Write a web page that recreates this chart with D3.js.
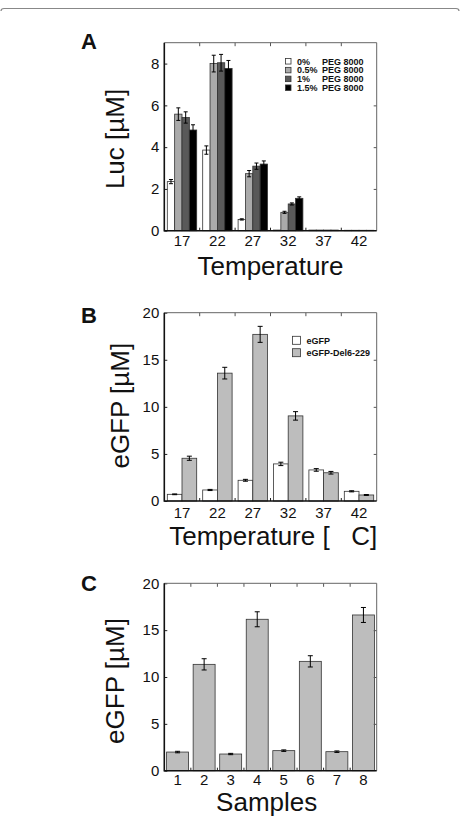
<!DOCTYPE html>
<html>
<head>
<meta charset="utf-8">
<script src="https://cdn.jsdelivr.net/npm/d3@7"></script>
<style>
  body { margin: 0; background: #fff; }
  text { font-family: "Liberation Sans", Arial, sans-serif; fill: #111; }
</style>
</head>
<body>
<div class="container"></div>
<script>
const w = 460;
const h = 816;

// panel A: luciferase vs temperature at 4 PEG levels
const tempLabels = ['17', '22', '27', '32', '37', '42'];
const pegLabels = ['0%', '0.5%', '1%', '1.5%'];
const lucPeg0 = [2.35, 3.86, 0.54, 0.03, 0.03, 0.02];
const lucPeg05 = [5.58, 8.0, 2.73, 0.88, 0.03, 0.02];
const lucPeg1 = [5.42, 8.04, 3.09, 1.28, 0.03, 0.02];
const lucPeg15 = [4.82, 7.77, 3.19, 1.55, 0.03, 0.02];
const lucErr0 = [0.1, 0.2, 0.03, 0, 0, 0];
const lucErr05 = [0.3, 0.4, 0.15, 0.05, 0, 0];
const lucErr1 = [0.27, 0.4, 0.15, 0.05, 0, 0];
const lucErr15 = [0.25, 0.38, 0.15, 0.07, 0, 0];
const lucTicks = [0, 2, 4, 6, 8];

// panel B: eGFP vs temperature
const gfpLabels = ['eGFP', 'eGFP-Del6-229'];
const gfpValues = [0.71, 1.17, 2.2, 3.94, 3.3, 1.03];
const gfpErr = [0.04, 0.06, 0.1, 0.18, 0.14, 0.06];
const delValues = [4.54, 13.58, 17.7, 9.04, 3.0, 0.64];
const delErr = [0.22, 0.62, 0.85, 0.45, 0.14, 0.05];
const gfpTicks = [0, 5, 10, 15, 20];

// panel C: eGFP per sample
const sampleLabels = ['1', '2', '3', '4', '5', '6', '7', '8'];
const sampleValues = [1.99, 11.35, 1.78, 16.16, 2.14, 11.67, 2.03, 16.62];
const sampleErr = [0.08, 0.6, 0.07, 0.8, 0.08, 0.6, 0.08, 0.8];

const svg = d3.select('.container').append('svg')
  .attr('width', w)
  .attr('height', h);

// page frame line at the top
svg.append('path')
  .attr('d', 'M1,11 Q1,8.5 4,8.5 L456,8.5 Q459,8.5 459,11')
  .attr('fill', 'none')
  .attr('stroke', '#888')
  .attr('stroke-width', 1.2);

const left = 164.3, right = 376.7;

function panel(o) {
  const g = svg.append('g');
  const x = d3.scaleBand().domain(o.cats).range([left, right]).padding(0);
  const y = d3.scaleLinear().domain([0, o.max]).range([o.bottom, o.top]);
  const x1 = d3.scaleBand()
    .domain(d3.range(o.series.length))
    .range([o.inset, x.bandwidth() - o.inset]);

  o.series.forEach((s, si) => {
    const bars = g.append('g');
    bars.selectAll('rect')
      .data(s.values)
      .enter()
      .append('rect')
        .attr('x', (d, i) => x(o.cats[i]) + x1(si))
        .attr('y', d => y(d))
        .attr('width', x1.bandwidth())
        .attr('height', d => y(0) - y(d))
        .style('fill', s.fill)
        .style('stroke', '#333')
        .style('stroke-width', 0.8);

    const err = bars.selectAll('.err')
      .data(s.values)
      .enter()
      .append('g')
        .classed('err', true)
        .attr('transform', (d, i) => `translate(${x(o.cats[i]) + x1(si) + x1.bandwidth() / 2},0)`)
        .style('display', (d, i) => s.errors[i] > 0 ? null : 'none');
    err.append('line')
      .attr('y1', (d, i) => y(d + s.errors[i]))
      .attr('y2', (d, i) => y(d - s.errors[i]))
      .attr('stroke', '#000').attr('stroke-width', 1);
    err.append('line')
      .attr('x1', -o.cap).attr('x2', o.cap)
      .attr('y1', (d, i) => y(d + s.errors[i]))
      .attr('y2', (d, i) => y(d + s.errors[i]))
      .attr('stroke', '#000').attr('stroke-width', 1);
    err.append('line')
      .attr('x1', -o.cap).attr('x2', o.cap)
      .attr('y1', (d, i) => y(d - s.errors[i]))
      .attr('y2', (d, i) => y(d - s.errors[i]))
      .attr('stroke', '#000').attr('stroke-width', 1);
  });

  // left axis, ticks pointing inward
  const yAxis = g.append('g')
    .attr('transform', `translate(${left},0)`)
    .call(d3.axisLeft(y).tickValues(o.ticks).tickSizeInner(-3).tickSizeOuter(0).tickPadding(5));
  yAxis.select('.domain').remove();
  yAxis.selectAll('text').style('font-size', '15px').style('font-family', '"Liberation Sans", Arial, sans-serif');
  yAxis.selectAll('line').attr('stroke', '#222');

  const rAxis = g.append('g')
    .attr('transform', `translate(${right},0)`)
    .call(d3.axisRight(y).tickValues(o.ticks.slice(1, -1)).tickSizeInner(-3).tickSizeOuter(0).tickFormat(''));
  rAxis.select('.domain').remove();
  rAxis.selectAll('line').attr('stroke', '#555');

  const xAxis = g.append('g')
    .attr('transform', `translate(0,${o.bottom})`)
    .call(d3.axisBottom(x).tickSize(0).tickPadding(o.labelPad));
  xAxis.select('.domain').remove();
  xAxis.selectAll('text').style('font-size', '15px').style('font-family', '"Liberation Sans", Arial, sans-serif');

  // band boundary ticks on top and bottom
  const bounds = o.cats.slice(1);
  g.selectAll('.btick')
    .data(bounds)
    .enter()
    .append('line')
      .attr('x1', d => x(d)).attr('x2', d => x(d))
      .attr('y1', o.bottom).attr('y2', o.bottom - 3)
      .attr('stroke', '#222');
  g.selectAll('.ttick')
    .data(bounds)
    .enter()
    .append('line')
      .attr('x1', d => x(d)).attr('x2', d => x(d))
      .attr('y1', o.top).attr('y2', o.top + 3.5)
      .attr('stroke', '#555');

  // frame
  g.append('path')
    .attr('d', `M${left},${o.top}H${right}V${o.bottom}`)
    .attr('fill', 'none').attr('stroke', '#666').attr('stroke-width', 1);
  g.append('path')
    .attr('d', `M${left},${o.top}V${o.bottom}H${right}`)
    .attr('fill', 'none').attr('stroke', '#111').attr('stroke-width', 1.6);

  g.append('text')
    .attr('x', 89).attr('y', o.letterY)
    .attr('text-anchor', 'middle')
    .style('font-size', '22px').style('font-weight', 'bold')
    .text(o.letter);

  g.append('text')
    .attr('transform', `translate(${o.yLabelX},${o.yLabelY}) rotate(-90)`)
    .attr('text-anchor', 'middle')
    .style('font-size', '26px')
    .text(o.yLabel);

  g.append('text')
    .attr('x', o.xLabelX).attr('y', o.xLabelY)
    .attr('text-anchor', 'middle')
    .style('font-size', '26px')
    .text(o.xLabel);

  if (o.legend) {
    const lg = g.append('g');
    o.legend.forEach((d, i) => {
      const cy = o.legendY + i * o.legendStep;
      lg.append('rect')
        .attr('x', o.legendX).attr('y', cy - o.legendBox / 2)
        .attr('width', o.legendBox).attr('height', o.legendBox)
        .style('fill', o.series[i].fill).style('stroke', '#333').style('stroke-width', 0.8);
      lg.append('text')
        .attr('x', o.legendX + o.legendBox + 6).attr('y', cy + 3.3)
        .style('font-size', '9px').style('font-weight', 'bold')
        .text(d);
      if (o.legendSuffix) {
        lg.append('text')
          .attr('x', o.legendSuffixX).attr('y', cy + 3.3)
          .style('font-size', '9px').style('font-weight', 'bold')
          .text(o.legendSuffix);
      }
    });
  }
}

panel({
  cats: tempLabels, max: 9, ticks: lucTicks,
  top: 42.7, bottom: 230.7, inset: 3, cap: 2, labelPad: 5,
  series: [
    {values: lucPeg0, errors: lucErr0, fill: '#fff'},
    {values: lucPeg05, errors: lucErr05, fill: '#aaa'},
    {values: lucPeg1, errors: lucErr1, fill: '#595959'},
    {values: lucPeg15, errors: lucErr15, fill: '#000'}
  ],
  letter: 'A', letterY: 49,
  yLabel: 'Luc [µM]', yLabelX: 124, yLabelY: 139,
  xLabel: 'Temperature', xLabelX: 270.5, xLabelY: 274.5,
  legend: pegLabels, legendX: 285.5, legendY: 61.3, legendStep: 8.8, legendBox: 5.5,
  legendSuffix: 'PEG 8000', legendSuffixX: 322
});

panel({
  cats: tempLabels, max: 20, ticks: gfpTicks,
  top: 312.7, bottom: 501, inset: 3, cap: 2.5, labelPad: 6,
  series: [
    {values: gfpValues, errors: gfpErr, fill: '#fff'},
    {values: delValues, errors: delErr, fill: '#bdbdbd'}
  ],
  letter: 'B', letterY: 322.7,
  yLabel: 'eGFP [µM]', yLabelX: 129, yLabelY: 405.7,
  xLabel: 'Temperature [\u00a0\u00a0\u00a0C]', xLabelX: 273.3, xLabelY: 545,
  legend: gfpLabels, legendX: 292.5, legendY: 340.3, legendStep: 12.4, legendBox: 8
});

panel({
  cats: sampleLabels, max: 20, ticks: gfpTicks,
  top: 583.3, bottom: 770.7, inset: 2.3, cap: 2.5, labelPad: 4,
  series: [
    {values: sampleValues, errors: sampleErr, fill: '#bdbdbd'}
  ],
  letter: 'C', letterY: 590.7,
  yLabel: 'eGFP [µM]', yLabelX: 124, yLabelY: 681,
  xLabel: 'Samples', xLabelX: 266.7, xLabelY: 810.7
});
</script>
</body>
</html>
